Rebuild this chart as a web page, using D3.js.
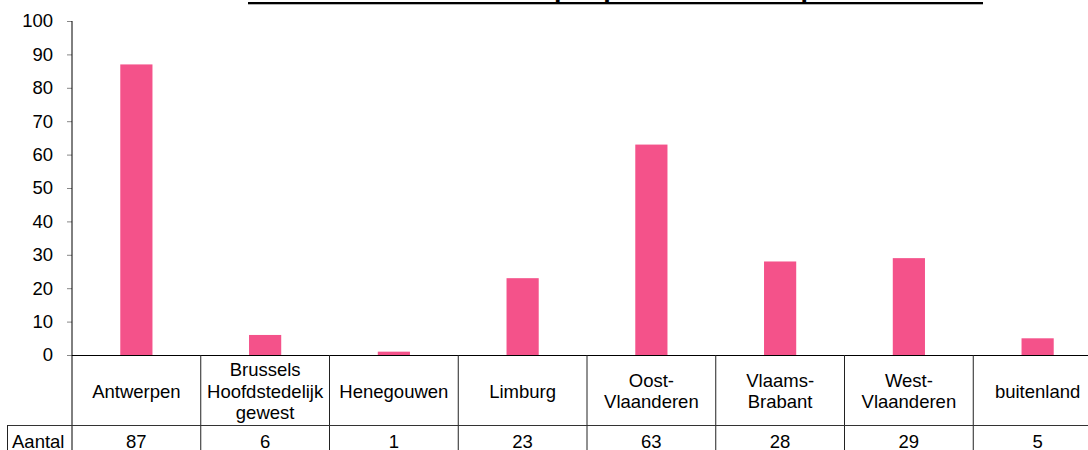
<!DOCTYPE html>
<html>
<head>
<meta charset="utf-8">
<script src="https://cdn.jsdelivr.net/npm/d3@7"></script>
<style>
  html, body { margin: 0; padding: 0; background: #fff; overflow: hidden; }
  svg { display: block; font-family: "Liberation Sans", Arial, Helvetica, sans-serif; }
</style>
</head>
<body>
<svg id="chart" width="1088" height="450"></svg>
<script>
// ---- data ----
const titleText = "Totaal aantal studenten per provincie/woonplaats student";
const categories = ["Antwerpen", "Brussels Hoofdstedelijk gewest", "Henegouwen", "Limburg",
                    "Oost-Vlaanderen", "Vlaams-Brabant", "West-Vlaanderen", "buitenland"];
const categoryLabelLines = [["Antwerpen"], ["Brussels", "Hoofdstedelijk", "gewest"], ["Henegouwen"], ["Limburg"],
                            ["Oost-", "Vlaanderen"], ["Vlaams-", "Brabant"], ["West-", "Vlaanderen"], ["buitenland"]];
const seriesName = "Aantal";
const values = [87, 6, 1, 23, 63, 28, 29, 5];
const yTicks = [0, 10, 20, 30, 40, 50, 60, 70, 80, 90, 100];

// ---- layout ----
const W = 1088, H = 450;
const plotLeft = 72, plotTop = 21, plotBottom = 355;
const colW = 128.75;
const plotRight = plotLeft + colW * categories.length;
const labelRowBottom = 425.5;
const tableLeft = 7;
const fontSize = 18.5;
const barColor = "#f4528a";

const svg = d3.select("#chart");

const x = d3.scaleBand().domain(categories).range([plotLeft, plotRight]).padding(0);
const y = d3.scaleLinear().domain([0, 100]).range([plotBottom, plotTop]);

// title (mostly cut off at top)
const tx = 615.5;
svg.append("text")
  .attr("x", tx).attr("y", -2)
  .attr("text-anchor", "middle")
  .attr("font-weight", "bold")
  .attr("font-size", 26)
  .attr("textLength", 735)
  .attr("lengthAdjust", "spacingAndGlyphs")
  .text(titleText);
svg.append("rect")
  .attr("x", tx - 367.5).attr("y", 2).attr("width", 735).attr("height", 2.3)
  .attr("fill", "#000");

// bars
const barW = x.bandwidth() * 0.25;
svg.append("g").selectAll("rect")
  .data(values)
  .join("rect")
  .attr("x", (d, i) => x(categories[i]) + x.bandwidth() / 2 - barW / 2)
  .attr("y", d => y(d))
  .attr("width", barW)
  .attr("height", d => y(0) - y(d))
  .attr("fill", barColor);

// y axis
const yAxis = d3.axisLeft(y).tickValues(yTicks).tickSize(5).tickPadding(14).tickFormat(d3.format("d"));
const gy = svg.append("g").attr("transform", `translate(${plotLeft},0)`).call(yAxis);
gy.select(".domain").remove();
gy.selectAll(".tick line").attr("stroke", "#888");
gy.selectAll(".tick text").attr("font-size", fontSize).attr("font-family", "Liberation Sans, Arial, sans-serif").attr("fill", "#000");
svg.append("line")
  .attr("x1", plotLeft).attr("x2", plotLeft)
  .attr("y1", plotTop).attr("y2", H + 10)
  .attr("stroke", "#000").attr("stroke-width", 1);

// x axis line
svg.append("line")
  .attr("x1", plotLeft).attr("x2", W + 20)
  .attr("y1", plotBottom + 0.5).attr("y2", plotBottom + 0.5)
  .attr("stroke", "#000").attr("stroke-width", 1);

// table
const tbl = svg.append("g");
// column separators
tbl.selectAll("line.sep")
  .data(categories.slice(1).concat(["__end"]))
  .join("line")
  .attr("class", "sep")
  .attr("x1", (d, i) => x(categories[0]) + colW * (i + 1))
  .attr("x2", (d, i) => x(categories[0]) + colW * (i + 1))
  .attr("y1", plotBottom).attr("y2", H + 10)
  .attr("stroke", "#222").attr("stroke-width", 1);
// row line
tbl.append("line")
  .attr("x1", tableLeft).attr("x2", W + 20)
  .attr("y1", labelRowBottom).attr("y2", labelRowBottom)
  .attr("stroke", "#333").attr("stroke-width", 1);
tbl.append("line")
  .attr("x1", tableLeft + 0.5).attr("x2", tableLeft + 0.5)
  .attr("y1", labelRowBottom).attr("y2", H + 10)
  .attr("stroke", "#222").attr("stroke-width", 1);

// category labels
const lineH = 21.3, labelCenterBase = 397.5;
const lg = tbl.append("g").attr("font-size", fontSize).attr("text-anchor", "middle").attr("fill", "#000");
categories.forEach((c, i) => {
  const lines = categoryLabelLines[i];
  const cx = x(c) + x.bandwidth() / 2;
  lines.forEach((ln, j) => {
    lg.append("text")
      .attr("x", cx)
      .attr("y", labelCenterBase + (j - (lines.length - 1) / 2) * lineH)
      .text(ln);
  });
});

// series row
tbl.append("text")
  .attr("x", 12).attr("y", 447.5)
  .attr("font-size", fontSize)
  .text(seriesName);
tbl.append("g").attr("font-size", fontSize).attr("text-anchor", "middle")
  .selectAll("text").data(values).join("text")
  .attr("x", (d, i) => x(categories[i]) + x.bandwidth() / 2)
  .attr("y", 447.5)
  .text(d => d);
</script>
</body>
</html>
